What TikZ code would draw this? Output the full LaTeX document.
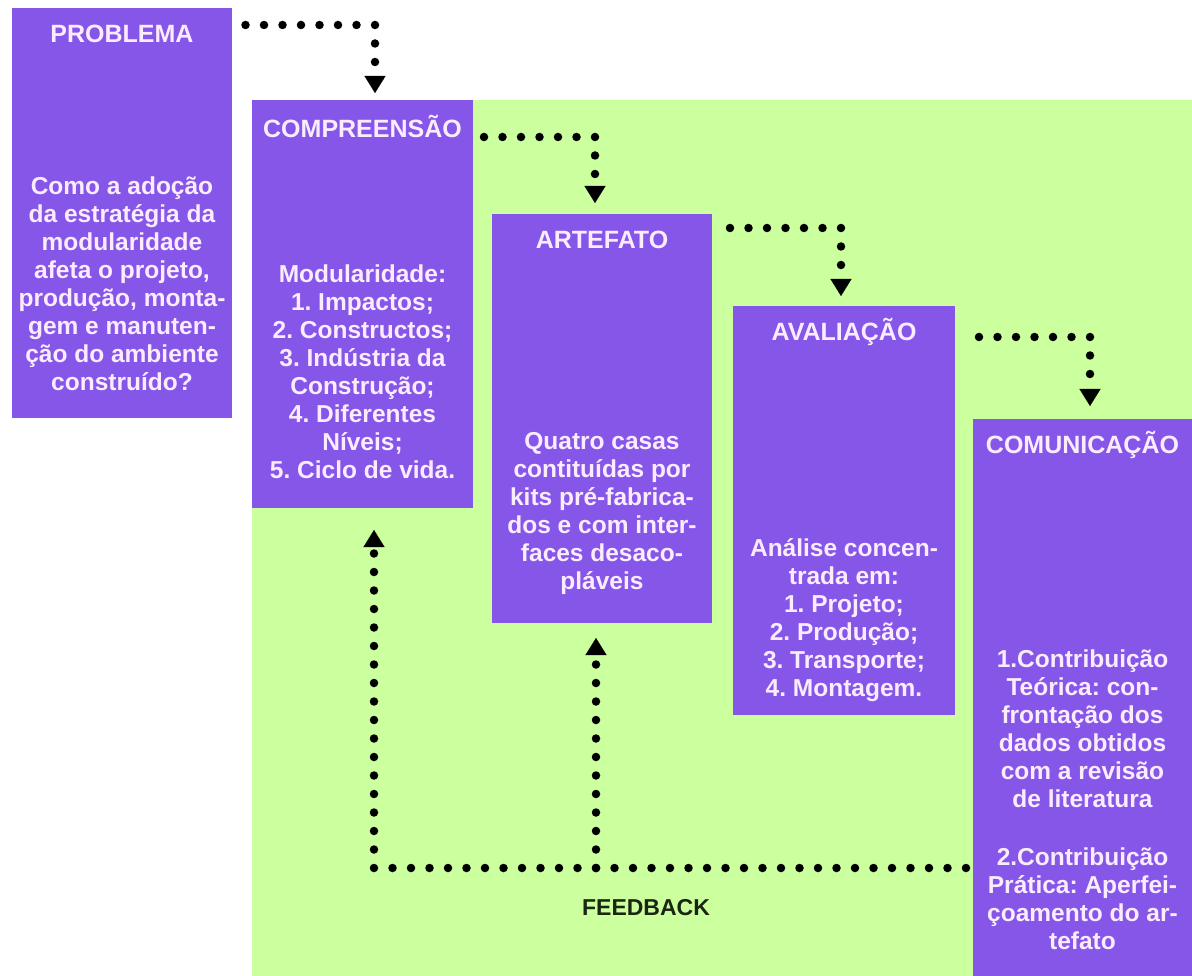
\documentclass[tikz,border=0pt]{standalone}
\usepackage{fontspec}
\setmainfont{Liberation Sans}
\usetikzlibrary{arrows.meta,calc}
\definecolor{boxpurple}{RGB}{134,86,232}
\definecolor{bggreen}{RGB}{204,255,158}
\definecolor{boxtext}{RGB}{250,236,255}
\definecolor{fbtext}{RGB}{26,38,18}
\frenchspacing
\begin{document}
\begin{tikzpicture}[x=1pt,y=-1pt,
  stage/.style={fill=boxpurple, draw=none, anchor=north west, inner sep=0pt, outer sep=0pt},
  stagetitle/.style={text=boxtext, font=\fontsize{25}{28}\selectfont\bfseries, inner sep=0pt},
  stagebody/.style={text=boxtext, font=\fontsize{24.5}{28}\selectfont\bfseries, align=center, inner sep=0pt},
  flow/.style={line width=8.5pt, line cap=round, dash pattern=on 0pt off 18.5pt,
    -{Triangle[width=21pt,length=17pt,line width=0.1pt]}},
]
% canvas and green working area
\useasboundingbox (0,0) rectangle (1192,976);
\fill[white] (0,0) rectangle (1192,976);
\fill[bggreen] (252,100) rectangle (1192,976);

% stage boxes
\node[stage, minimum width=220pt, minimum height=410pt] (prob) at (12,8) {};
\node[stage, minimum width=221pt, minimum height=408pt] (comp) at (252,100) {};
\node[stage, minimum width=220pt, minimum height=409pt] (art)  at (492,214) {};
\node[stage, minimum width=222pt, minimum height=409pt] (aval) at (733,306) {};
\node[stage, minimum width=219pt, minimum height=557pt] (comu) at (973,419) {};

% titles
\node[stagetitle] (probT) at ($(prob.north)+(0,26)$) {PROBLEMA};
\node[stagetitle] (compT) at ($(comp.north)+(0,26)$) {COMPREENSÃO};
\node[stagetitle] (artT)  at ($(art.north)+(0,26)$)  {ARTEFATO};
\node[stagetitle] (avalT) at ($(aval.north)+(0,26)$) {AVALIAÇÃO};
\node[stagetitle] (comuT) at ($(comu.north)+(0,26)$) {COMUNICAÇÃO};

% body texts
\node[stagebody] (probB) at (122,284) {Como a adoção\\da estratégia da\\modularidade\\afeta o projeto,\\produção, monta-\\gem e manuten-\\ção do ambiente\\construído?};
\node[stagebody] (compB) at (362.5,372) {Modularidade:\\1. Impactos;\\2. Constructos;\\3. Indústria da\\Construção;\\4. Diferentes\\Níveis;\\5. Ciclo de vida.};
\node[stagebody] (artB) at (602,513) {Quatro casas\\contituídas por\\kits pré-fabrica-\\dos e com inter-\\faces desaco-\\pláveis};
\node[stagebody] (avalB) at (844,620) {Análise concen-\\trada em:\\1. Projeto;\\2. Produção;\\3. Transporte;\\4. Montagem.};
\node[stagebody] (comuB) at (1082.5,800) {1.Contribuição\\Teórica: con-\\frontação dos\\dados obtidos\\com a revisão\\de literatura\\[30pt]2.Contribuição\\Prática: Aperfei-\\çoamento do ar-\\tefato};

% forward flow between stages
\coordinate (s1) at (245.5,25);
\coordinate (s2) at (484,137);
\coordinate (s3) at (730,228);
\coordinate (s4) at (979,337);
\draw[flow, shorten >=7pt]  (s1) -| ($(comp.north)+(12.5,0)$);
\draw[flow, shorten >=11pt] (s2) -| ($(art.north)+(-7,0)$);
\draw[flow, shorten >=10pt] (s3) -| ($(aval.north)+(-3,0)$);
\draw[flow, shorten >=13pt] (s4) -| ($(comu.north)+(7.5,0)$);

% feedback loop
\coordinate (fbR) at (966,868);
\coordinate (fbL) at (374,868);
\coordinate (fbJ) at (596,868);
\draw[flow, shorten >=22pt] (fbR) -- (fbL) -- (fbL |- comp.south);
\draw[flow, shorten >=15pt] (fbJ) -- (fbJ |- art.south);
\node[text=fbtext, font=\fontsize{23}{26}\selectfont\bfseries, inner sep=0pt] (fb) at (646,908) {FEEDBACK};
\end{tikzpicture}
\end{document}
